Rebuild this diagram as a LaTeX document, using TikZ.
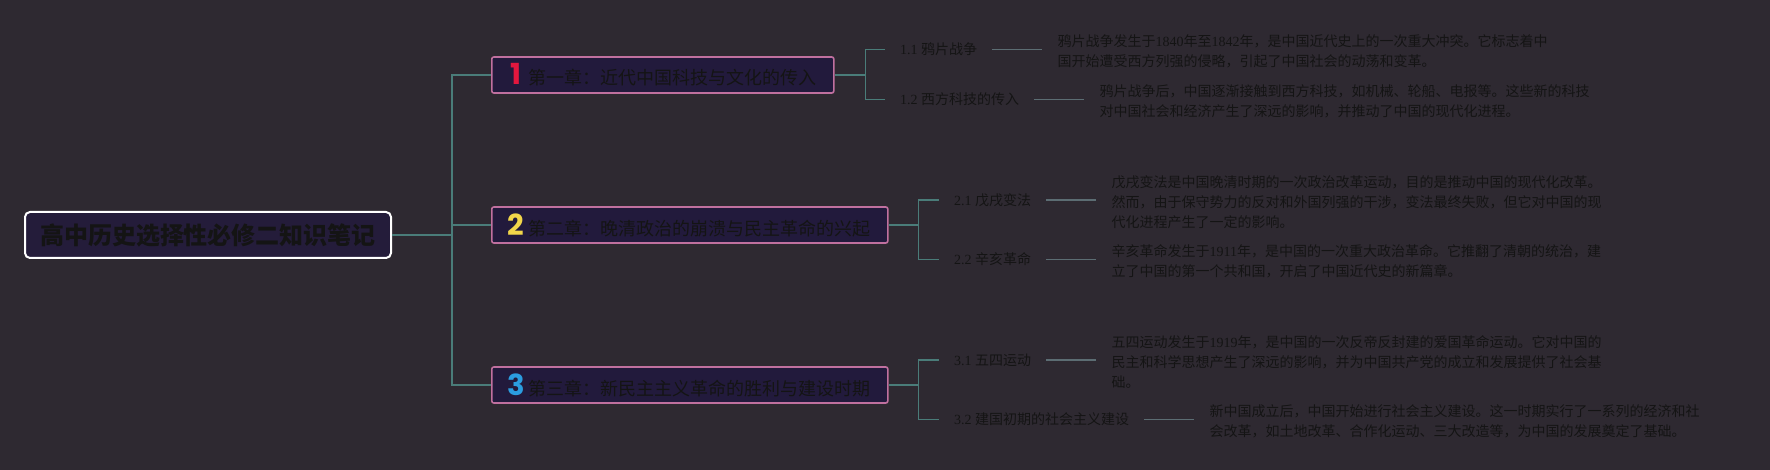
\documentclass[tikz,border=0pt]{standalone}
\usepackage{fontspec}
\setmainfont{Noto Sans CJK SC}
\newfontfamily\lat{Liberation Serif}
\newfontfamily\numfont{Poppins}
\definecolor{bgc}{HTML}{2E2931}
\definecolor{ink}{HTML}{141414}
\definecolor{rootfill}{HTML}{241C3A}
\definecolor{chapfill}{HTML}{221A3C}
\definecolor{pinkb}{HTML}{C0709F}
\definecolor{linkc}{HTML}{4A7C79}
\definecolor{leafc}{HTML}{5C6D73}
\definecolor{numred}{HTML}{E3173E}
\definecolor{numyellow}{HTML}{F2D64A}
\definecolor{numblue}{HTML}{2B9DE0}
\newcommand\chnum[2]{\makebox[14pt][c]{\numfont\bfseries\fontsize{29pt}{29pt}\selectfont\color{#1}#2}\hspace{6pt}}
\begin{document}
\begin{tikzpicture}[x=1pt,y=-1pt,
  rootbox/.style={draw=white, line width=2pt, fill=rootfill, rounded corners=5pt,
    minimum width=366pt, minimum height=46pt, inner sep=0pt, text=ink,
    font=\fontsize{24pt}{28pt}\selectfont\bfseries},
  chapbox/.style={draw=pinkb, line width=1.6pt, fill=chapfill, rounded corners=2pt,
    minimum height=36pt, inner xsep=17pt, inner ysep=0pt, text=ink, anchor=west,
    font=\fontsize{18pt}{22pt}\selectfont},
  sublabel/.style={inner xsep=15pt, inner ysep=2pt, anchor=west, text=ink,
    font=\fontsize{14pt}{17pt}\selectfont},
  descr/.style={inner xsep=15pt, inner ysep=0pt, anchor=west, align=left, text=ink,
    font=\fontsize{14pt}{19.7pt}\selectfont},
  link/.style={draw=linkc, line width=1.6pt},
  leaf/.style={draw=leafc, line width=1.8pt}]
\fill[bgc] (0,0) rectangle (1770,470);
\useasboundingbox (0,0) rectangle (1770,470);

% root and chapters
\node[rootbox] (root) at (208,235) {高中历史选择性必修二知识笔记};
\node[chapbox] (c1) at (491,75) {\chnum{numred}{1}第一章：近代中国科技与文化的传入};
\node[chapbox] (c2) at (491,225) {\chnum{numyellow}{2}第二章：晚清政治的崩溃与民主革命的兴起};
\node[chapbox] (c3) at (491,385) {\chnum{numblue}{3}第三章：新民主主义革命的胜利与建设时期};

\coordinate (t) at ([xshift=60pt]root.east);
\draw[link] (root.east) -- (t);
\draw[link] (t) |- (c1.west);
\draw[link] (t) |- (c2.west);
\draw[link] (t) |- (c3.west);

% subtopic labels
\node[sublabel] (s11) at (885,49.5) {{\lat 1.1 }鸦片战争};
\node[sublabel] (s12) at (885,99.5) {{\lat 1.2 }西方科技的传入};
\node[sublabel] (s21) at (939,200) {{\lat 2.1 }戊戌变法};
\node[sublabel] (s22) at (939,259.5) {{\lat 2.2 }辛亥革命};
\node[sublabel] (s31) at (939,360) {{\lat 3.1 }五四运动};
\node[sublabel] (s32) at (939,419.5) {{\lat 3.2 }建国初期的社会主义建设};

\coordinate (b1) at ([xshift=31pt]c1.east);
\coordinate (b2) at ([xshift=30pt]c2.east);
\coordinate (b3) at ([xshift=30pt]c3.east);
\draw[link] (c1.east) -- (b1);
\draw[link] (b1) |- (s11.west);
\draw[link] (b1) |- (s12.west);
\draw[link] (c2.east) -- (b2);
\draw[link] (b2) |- (s21.west);
\draw[link] (b2) |- (s22.west);
\draw[link] (c3.east) -- (b3);
\draw[link] (b3) |- (s31.west);
\draw[link] (b3) |- (s32.west);

% descriptions
\node[descr] (d11) at ([xshift=50pt,yshift=-2pt]s11.east) {鸦片战争发生于{\lat 1840}年至{\lat 1842}年，是中国近代史上的一次重大冲突。它标志着中\\国开始遭受西方列强的侵略，引起了中国社会的动荡和变革。};
\node[descr] (d12) at ([xshift=50pt,yshift=-2pt]s12.east) {鸦片战争后，中国逐渐接触到西方科技，如机械、轮船、电报等。这些新的科技\\对中国社会和经济产生了深远的影响，并推动了中国的现代化进程。};
\node[descr] (d21) at ([xshift=50pt,yshift=-2pt]s21.east) {戊戌变法是中国晚清时期的一次政治改革运动，目的是推动中国的现代化改革。\\然而，由于保守势力的反对和外国列强的干涉，变法最终失败，但它对中国的现\\代化进程产生了一定的影响。};
\node[descr] (d22) at ([xshift=50pt,yshift=-2pt]s22.east) {辛亥革命发生于{\lat 1911}年，是中国的一次重大政治革命。它推翻了清朝的统治，建\\立了中国的第一个共和国，开启了中国近代史的新篇章。};
\node[descr] (d31) at ([xshift=50pt,yshift=-2pt]s31.east) {五四运动发生于{\lat 1919}年，是中国的一次反帝反封建的爱国革命运动。它对中国的\\民主和科学思想产生了深远的影响，并为中国共产党的成立和发展提供了社会基\\础。};
\node[descr] (d32) at ([xshift=50pt,yshift=-2pt]s32.east) {新中国成立后，中国开始进行社会主义建设。这一时期实行了一系列的经济和社\\会改革，如土地改革、合作化运动、三大改造等，为中国的发展奠定了基础。};

\draw[leaf] (s11.east) -- (s11.east -| d11.west);
\draw[leaf] (s12.east) -- (s12.east -| d12.west);
\draw[leaf] (s21.east) -- (s21.east -| d21.west);
\draw[leaf] (s22.east) -- (s22.east -| d22.west);
\draw[leaf] (s31.east) -- (s31.east -| d31.west);
\draw[leaf] (s32.east) -- (s32.east -| d32.west);
\end{tikzpicture}
\end{document}
